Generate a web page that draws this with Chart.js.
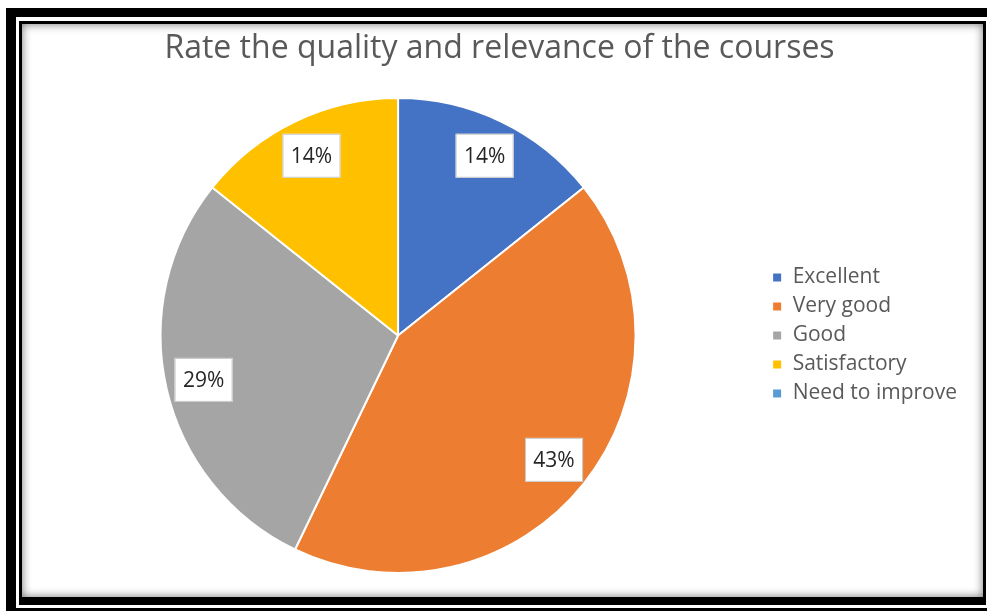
<!DOCTYPE html>
<html>
<head>
<meta charset="utf-8">
<script src="https://cdn.jsdelivr.net/npm/chart.js@4.4.1/dist/chart.umd.min.js"></script>
<style>
  html, body { margin: 0; padding: 0; background: #fff; }
  .box { position: absolute; }
  #f1 { left: 6px; top: 8px; width: 981px; height: 603px; background: #000; }
  #f2 { left: 16px; top: 17px; width: 971px; height: 591px; background: #fff; }
  #f3 { left: 19px; top: 21px; width: 967px; height: 584px; background: #000; }
  #f4 { left: 22px; top: 24px; width: 961px; height: 573px; background: #fff;
        box-shadow: inset 0 0 10px rgba(0,0,0,0.55); }
  #wrap { position: absolute; left: 0; top: 0; width: 987px; height: 611px; }
</style>
</head>
<body>
<div class="box" id="f1"></div>
<div class="box" id="f2"></div>
<div class="box" id="f3"></div>
<div class="box" id="f4"></div>
<div id="wrap"><canvas id="pieChart" width="987" height="611"></canvas></div>
<script>
const ratings = ["Excellent", "Very good", "Good", "Satisfactory", "Need to improve"];
const shares = [14.3, 42.9, 28.6, 14.3, 0];
const sliceColors = ["#4472C4", "#ED7D31", "#A5A5A5", "#FFC000", "#5B9BD5"];

const ctx = document.getElementById("pieChart");

// white boxed percentage labels near the outer edge of each slice
const sliceLabels = {
  id: 'sliceLabels',
  afterDatasetsDraw(chart) {
    const c = chart.ctx;
    const meta = chart.getDatasetMeta(0);
    meta.data.forEach((arc, i) => {
      if (!shares[i]) return;
      const p = arc.getProps(['x', 'y', 'startAngle', 'endAngle', 'outerRadius'], true);
      const mid = (p.startAngle + p.endAngle) / 2;
      const r = p.outerRadius * 0.84;
      const lx = p.x + Math.cos(mid) * r;
      const ly = p.y + Math.sin(mid) * r;
      const w = 58, h = 44;
      c.save();
      c.fillStyle = '#fff';
      c.fillRect(lx - w / 2, ly - h / 2, w, h);
      c.strokeStyle = '#c8c8c8';
      c.lineWidth = 1;
      c.strokeRect(lx - w / 2 + 0.5, ly - h / 2 + 0.5, w - 1, h - 1);
      c.fillStyle = '#262626';
      c.font = '21px "Open Sans"';
      c.textAlign = 'center';
      c.textBaseline = 'middle';
      c.fillText(Math.round(shares[i]) + '%', lx, ly + 1);
      c.restore();
    });
  }
};

const pieChart = new Chart(ctx, {
  type: 'pie',
  data: {
    labels: ratings,
    datasets: [{
      data: shares,
      backgroundColor: sliceColors,
      borderColor: '#fff',
      borderWidth: 2,
    }]
  },
  options: {
    responsive: false,
    animation: false,
    events: [],
    layout: {
      padding: { left: 32, right: 20, top: 0, bottom: 37 }
    },
    plugins: {
      title: {
        display: true,
        text: 'Rate the quality and relevance of the courses',
        color: '#595959',
        font: { family: '"Open Sans"', size: 32, weight: 'normal' },
        padding: { top: 30, bottom: 28.6 }
      },
      legend: {
        position: 'right',
        fullSize: false,
        labels: {
          boxWidth: 10,
          boxHeight: 10,
          padding: 8,
          color: '#595959',
          font: { family: '"Open Sans"', size: 21 }
        }
      },
      tooltip: { enabled: false }
    }
  },
  plugins: [sliceLabels]
});
</script>
</body>
</html>
